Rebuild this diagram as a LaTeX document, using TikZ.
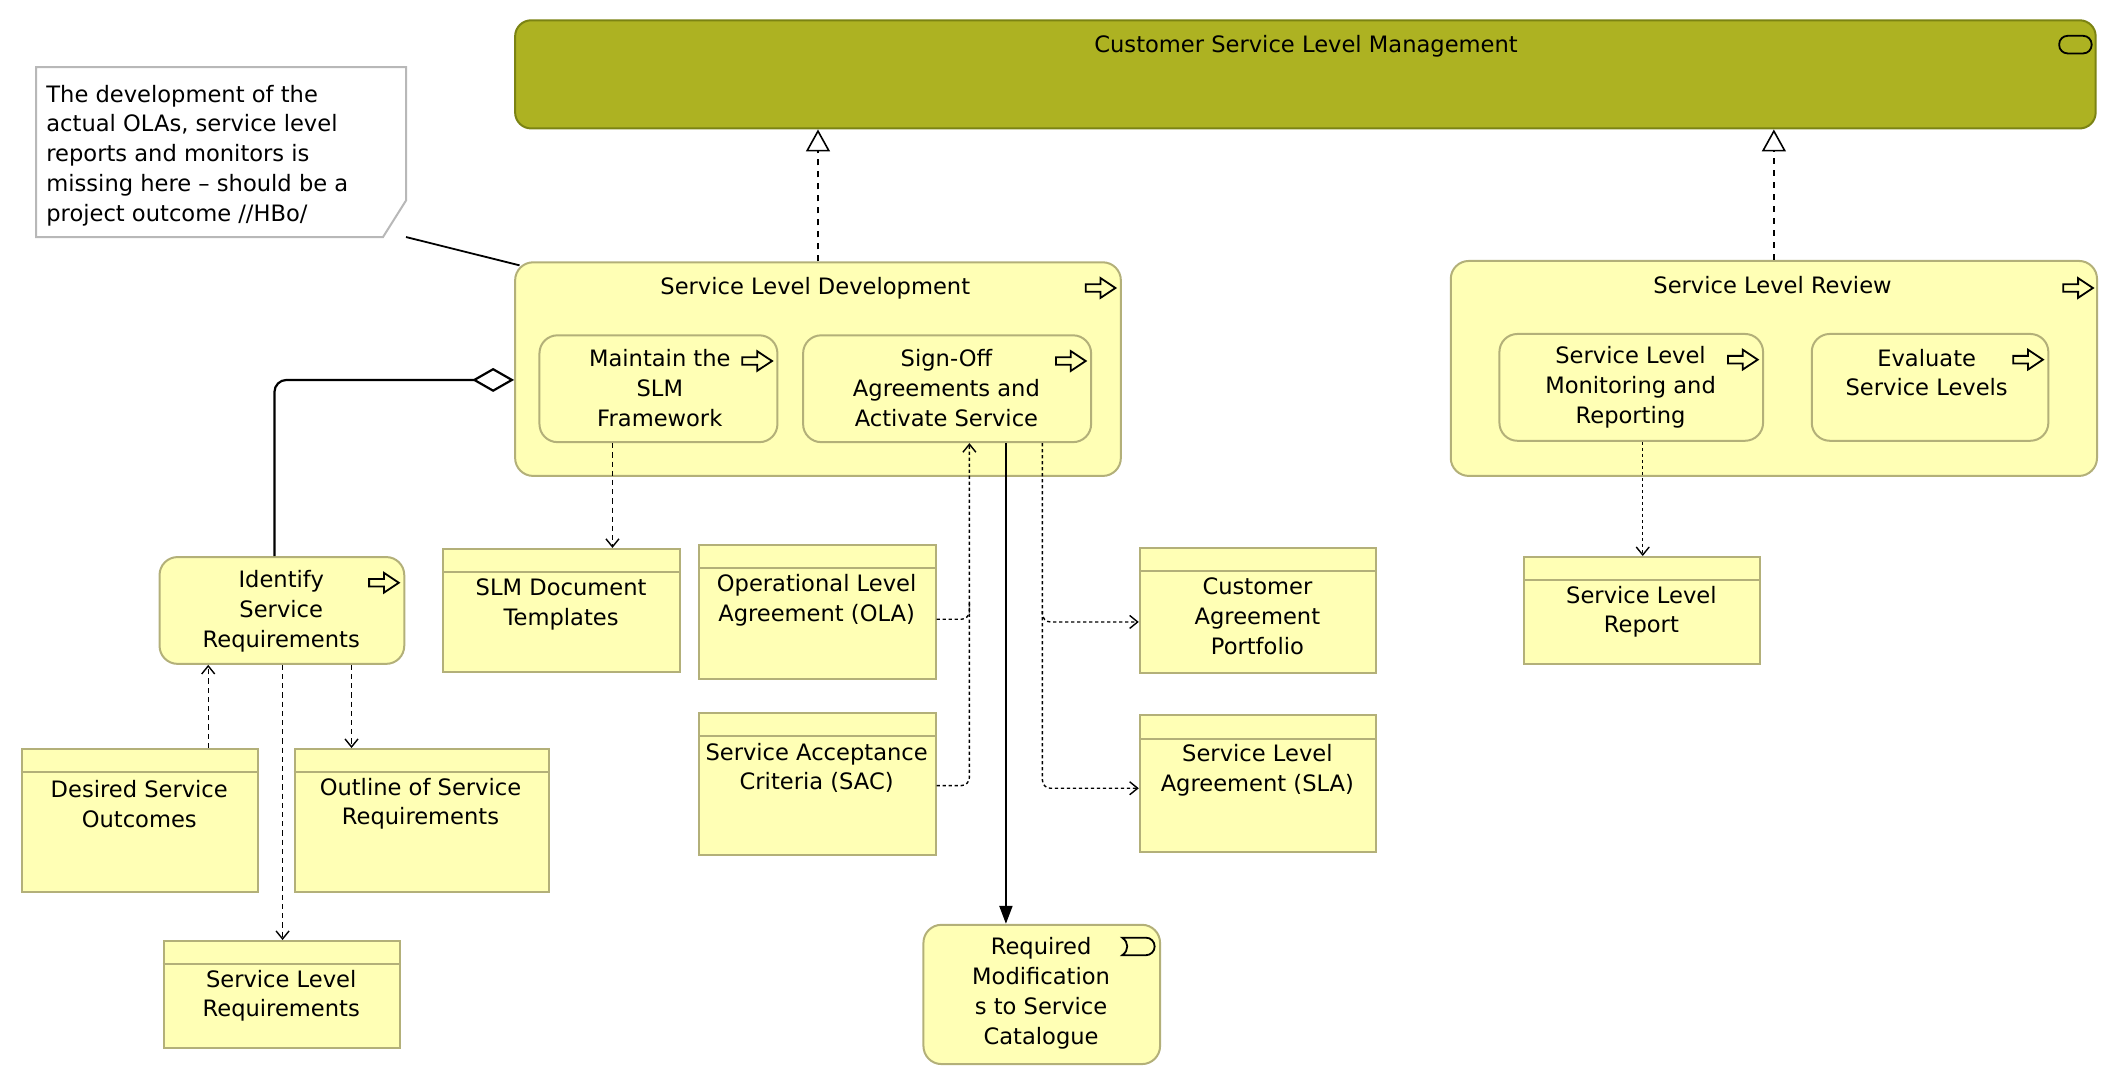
\documentclass[tikz,border=0pt]{standalone}
\usepackage{fontspec}
\setmainfont{DejaVu Sans}
\usetikzlibrary{arrows.meta,fit,calc}
\definecolor{yfill}{HTML}{FFFFB5}
\definecolor{ybord}{HTML}{B3B079}
\definecolor{ofill}{HTML}{ADB222}
\definecolor{obord}{HTML}{7B8313}
\definecolor{nbord}{HTML}{B8B8B8}
\newcommand\bobj[8]{%
  \node[ybox, fit={(#2,#3)(#4,#5)}] (#1) {};
  \draw[hdr] ($(#1.north west)+(0,18)$) -- ($(#1.north east)+(0,18)$);
  \node[txt] (#1T) at (#6,#7) {#8};}
\begin{document}
\begin{tikzpicture}[x=0.676pt, y=-0.676pt,
  frame/.style={inner sep=0pt, line width=1pt},
  ybox/.style={frame, draw=ybord, fill=yfill},
  rbox/.style={ybox, rounded corners=9pt},
  hdr/.style={draw=ybord, line width=1pt},
  txt/.style={inner sep=0pt, align=center, text=black, font=\fontsize{11.3}{14.9}\selectfont},
  icon/.style={draw=black, line width=0.9pt},
  real/.style={draw=black, line width=0.6pt, dash pattern=on 3pt off 3pt, -{Triangle[open,length=11pt,width=12pt,line width=0.8pt]}},
  acc/.style={draw=black, line width=0.7pt, dash pattern=on 2.6pt off 2pt, -{Straight Barb[length=4pt,width=6.5pt]}},
  accd/.style={acc, dash pattern=on 1.6pt off 1.4pt},
  trig/.style={draw=black, line width=1.1pt, -{Triangle[length=9pt,width=6.5pt]}},
  agg/.style={draw=black, line width=1.1pt, rounded corners=6pt, -{Diamond[open,length=21pt,width=12pt]}},
  procicon/.pic={\draw[icon] (-11,-2.8)--(0,-2.8)--(0,-7.3)--(11,0)--(0,7.3)--(0,2.8)--(-11,2.8)--cycle;},
  servicon/.pic={\draw[icon, rounded corners=4.2pt] (-12,-6.5) rectangle (12,6.5);},
  eventicon/.pic={\draw[icon] (-12,-6.5) -- (5.5,-6.5) arc[start angle=-90,end angle=90,radius=6.5] -- (-12,6.5) .. controls (-7,3) and (-7,-3) .. (-12,-6.5) -- cycle;},
]
\useasboundingbox (0,0) rectangle (1568,803);

% coordinates for connector routing
\coordinate (x154) at (154,0);
\coordinate (x203) at (203,0);
\coordinate (x209) at (209,0);
\coordinate (x260) at (260,0);
\coordinate (x453) at (453,0);
\coordinate (x717) at (717,0);
\coordinate (x744) at (744,0);
\coordinate (x771) at (771,0);
\coordinate (x1215) at (1215,0);
\coordinate (y281) at (0,281);
\coordinate (y445) at (0,445);
\coordinate (y452) at (0,452);
\coordinate (y458) at (0,458);
\coordinate (y460) at (0,460);
\coordinate (y581) at (0,581);
\coordinate (y583) at (0,583);

% top function
\node[frame, draw=obord, fill=ofill, rounded corners=8pt, fit={(381,15)(1550,95)}] (cslm) {};
\node[txt] (cslmT) at (966,34) {Customer Service Level Management};
\pic at (1535,33) {servicon};

% note
\node[inner sep=0pt, fit={(27,50)(300,175)}] (note) {};
\path[draw=nbord, fill=white, line width=1pt] (note.north west) -- (note.north east) -- ($(note.south east)+(0,-27)$) -- ($(note.south east)+(-17,0)$) -- (note.south west) -- cycle;
\node[txt, align=left, anchor=west] (noteT) at (34,115) {The development of the\\actual OLAs, service level\\reports and monitors is\\missing here – should be a\\project outcome //HBo/};

% Service Level Development
\node[rbox, fit={(381,194)(829,352)}] (sld) {};
\node[txt] (sldT) at (603,213) {Service Level Development};
\pic at (814,213) {procicon};
\node[rbox, fit={(399,248)(575,327)}] (maint) {};
\node[txt] (maintT) at (488,287) {Maintain the\\SLM\\Framework};
\pic at (560,267) {procicon};
\node[rbox, fit={(594,248)(807,327)}] (signoff) {};
\node[txt] (signoffT) at (700,287) {Sign-Off\\Agreements and\\Activate Service};
\pic at (792,267) {procicon};

% Service Level Review
\node[rbox, fit={(1073,193)(1551,352)}] (slr) {};
\node[txt] (slrT) at (1311,211) {Service Level Review};
\pic at (1537,213) {procicon};
\node[rbox, fit={(1109,247)(1304,326)}] (slmr) {};
\node[txt] (slmrT) at (1206,286.5) {Service Level\\Monitoring and\\Reporting};
\pic at (1289,266) {procicon};
\node[rbox, fit={(1340,247)(1515,326)}] (evals) {};
\node[txt] (evalsT) at (1425,275.5) {Evaluate\\Service Levels};
\pic at (1500,266) {procicon};

% Identify Service Requirements
\node[rbox, fit={(118,412)(299,491)}] (idsr) {};
\node[txt] (idsrT) at (208,452) {Identify\\Service\\Requirements};
\pic at (284,431) {procicon};

% business objects
\bobj{slmdoc}{328}{406}{503}{497}{415}{447}{SLM Document\\Templates}
\bobj{ola}{517}{403}{692}{502}{604}{444}{Operational Level\\Agreement (OLA)}
\bobj{sac}{517}{527}{692}{632}{604}{568}{Service Acceptance\\Criteria (SAC)}
\bobj{cap}{843}{405}{1018}{498}{930}{456}{Customer\\Agreement\\Portfolio}
\bobj{sla}{843}{529}{1018}{630}{930}{569.5}{Service Level\\Agreement (SLA)}
\bobj{slrep}{1127}{412}{1302}{491}{1214}{452.5}{Service Level\\Report}
\bobj{dso}{16}{554}{191}{660}{103}{594.5}{Desired Service\\Outcomes}
\bobj{outl}{218}{554}{406}{660}{311}{594.5}{Outline of Service\\Requirements}
\bobj{slreq}{121}{696}{296}{775}{208}{736.5}{Service Level\\Requirements}

% event
\node[rbox, fit={(683,684)(858,787)}] (reqmod) {};
\node[txt] (reqmodT) at (770,734.5) {Required\\Modification\\s to Service\\Catalogue};
\pic at (842,700) {eventicon};

% connectors
\draw[line width=0.9pt] (note.south east) -- ($(sld.north west)+(4,3)$);
\draw[real] (sld.north) -- (sld.north |- cslm.south);
\draw[real] (slr.north) -- (slr.north |- cslm.south);
\draw[agg] (idsr.north -| x203) |- (sld.west |- y281);
\draw[acc] (maint.south -| x453) -- (slmdoc.north -| x453);
\draw[accd, rounded corners=4pt, -] (ola.east |- y458) -| (x717 |- y445);
\draw[accd, rounded corners=4pt] (sac.east |- y581) -| (signoff.south -| x717);
\draw[trig] (signoff.south -| x744) -- (reqmod.north -| x744);
\draw[accd, rounded corners=4pt] (signoff.south -| x771) |- (cap.west |- y460);
\draw[accd, rounded corners=4pt] (x771 |- y452) |- (sla.west |- y583);
\draw[accd] (slmr.south -| x1215) -- (slrep.north -| x1215);
\draw[acc] (dso.north -| x154) -- (idsr.south -| x154);
\draw[acc] (idsr.south -| x260) -- (outl.north -| x260);
\draw[acc] (idsr.south -| x209) -- (slreq.north -| x209);
\end{tikzpicture}
\end{document}
